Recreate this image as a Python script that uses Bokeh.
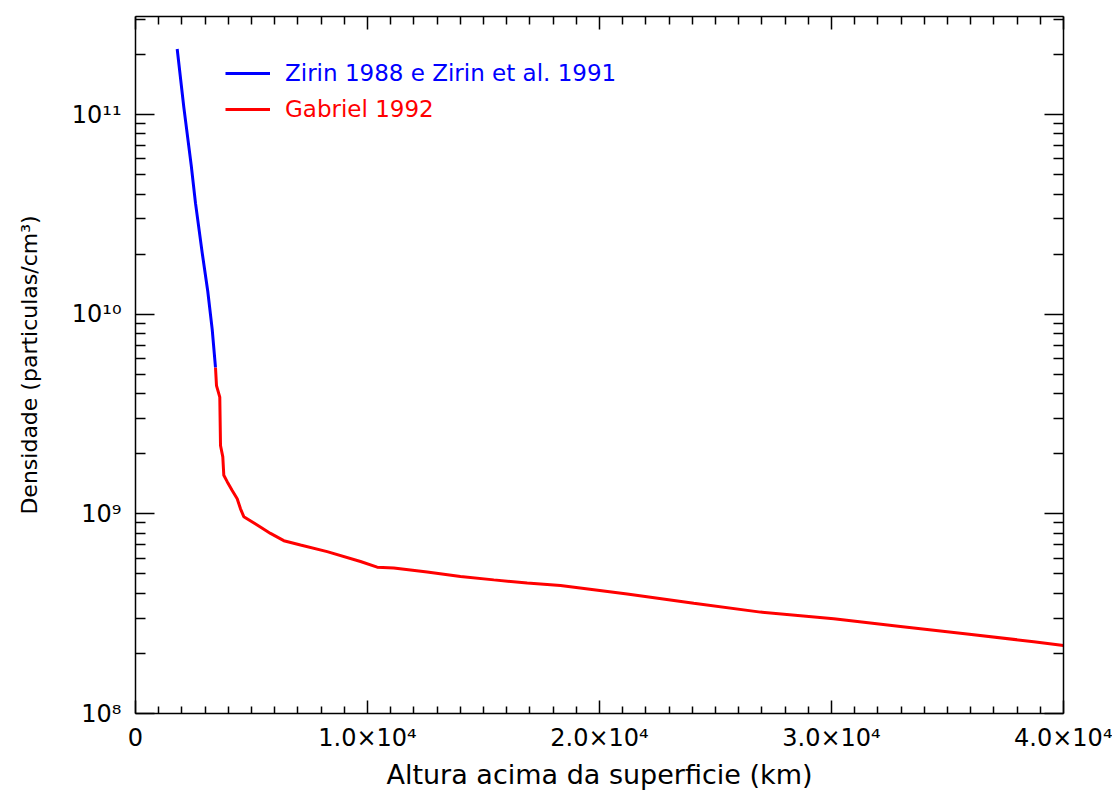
from bokeh.plotting import figure
from bokeh.models import (LinearAxis, LogAxis, FixedTicker, Range1d, Legend, LegendItem)
from bokeh.embed import file_html
from bokeh.resources import INLINE

# ---- data ----
blue_label = "Zirin 1988 e Zirin et al. 1991"
blue_h = [1797, 2082, 2401, 2586, 2875, 3116, 3306, 3448]
blue_n = [2.13e11, 1.09e11, 5.58e10, 3.60e10, 2.03e10, 1.30e10, 8.39e9, 5.41e9]

red_label = "Gabriel 1992"
red_h = [3448, 3491, 3633, 3664, 3763, 3806, 3952, 4168, 4383, 4526, 4668, 5245,
         5819, 6392, 7112, 8262, 9698, 10417, 11133, 12572, 14008, 15443, 16883,
         18318, 21193, 24063, 26938, 30096, 32972, 35846, 38717, 40000]
red_n = [5.41e9, 4.39e9, 3.84e9, 2.20e9, 1.93e9, 1.56e9, 1.45e9, 1.31e9, 1.19e9,
         1.06e9, 9.68e8, 8.79e8, 7.98e8, 7.34e8, 6.98e8, 6.47e8, 5.77e8, 5.41e8,
         5.35e8, 5.11e8, 4.86e8, 4.67e8, 4.50e8, 4.38e8, 3.97e8, 3.57e8, 3.22e8,
         2.98e8, 2.73e8, 2.50e8, 2.29e8, 2.19e8]

x_ticks = [0, 10000, 20000, 30000, 40000]
x_tick_labels = ["0", "1.0×10⁴", "2.0×10⁴", "3.0×10⁴", "4.0×10⁴"]
y_ticks = [1e8, 1e9, 1e10, 1e11]
y_tick_labels = ["10⁸", "10⁹", "10¹⁰", "10¹¹"]

x_title = "Altura acima da superficie (km)"
y_title = "Densidade (particulas/cm³)"

FONT = "DejaVu Sans"

p = figure(width=1112, height=792, output_backend="svg", toolbar_location=None,
           y_axis_type="log", x_range=Range1d(0, 40000), y_range=Range1d(1e8, 3.1e11),
           min_border_left=135, min_border_right=49, min_border_top=16, min_border_bottom=76)
p.outline_line_color = None
p.grid.visible = False
p.background_fill_color = "white"
p.border_fill_color = "white"

x_minor = [v for v in range(0, 40001, 1000) if v not in x_ticks]
y_minor = [m * 10 ** e for e in range(7, 12) for m in range(2, 10)]

def style_axis(ax, major_len, minor_len):
    ax.axis_line_color = "black"
    ax.axis_line_width = 1.5
    ax.major_tick_line_color = "black"
    ax.minor_tick_line_color = "black"
    ax.major_tick_line_width = 1.5
    ax.minor_tick_line_width = 1.5
    ax.major_tick_in = major_len
    ax.major_tick_out = 0
    ax.minor_tick_in = minor_len
    ax.minor_tick_out = 0
    ax.major_label_text_font = FONT
    ax.major_label_text_color = "black"
    ax.axis_label_text_font = FONT
    ax.axis_label_text_font_style = "normal"
    ax.axis_label_text_color = "black"

# bottom axis
xa = p.xaxis[0]
xa.ticker = FixedTicker(ticks=x_ticks, minor_ticks=x_minor)
xa.major_label_overrides = {t: l for t, l in zip(x_ticks, x_tick_labels)}
style_axis(xa, 13, 7)
xa.major_label_text_font_size = "24px"
xa.major_label_standoff = 10
xa.axis_label = x_title
xa.axis_label_text_font_size = "27px"
xa.axis_label_standoff = 4

# left axis
ya = p.yaxis[0]
ya.ticker = FixedTicker(ticks=y_ticks, minor_ticks=y_minor)
ya.major_label_overrides = {t: l for t, l in zip(y_ticks, y_tick_labels)}
style_axis(ya, 19, 10)
ya.major_label_text_font_size = "24px"
ya.major_label_standoff = 14
ya.axis_label = y_title
ya.axis_label_text_font_size = "22px"
ya.axis_label_standoff = 27

# top axis (ticks only, empty labels)
top = LinearAxis(ticker=FixedTicker(ticks=x_ticks, minor_ticks=x_minor))
style_axis(top, 13, 8)
top.major_label_overrides = {t: "" for t in x_ticks}
top.major_label_standoff = 0
p.add_layout(top, "above")

# right axis (ticks only, empty labels)
right = LogAxis(ticker=FixedTicker(ticks=y_ticks, minor_ticks=y_minor))
style_axis(right, 19, 10)
right.major_label_overrides = {t: "" for t in y_ticks}
right.major_label_standoff = 0
p.add_layout(right, "right")

r_red = p.line(red_h, red_n, line_color="#ff0000", line_width=3)
r_blue = p.line(blue_h, blue_n, line_color="#0000ff", line_width=3)

def make_legend(label, rend, color, loc):
    lg = Legend(items=[LegendItem(label=label, renderers=[rend])], location=loc,
                border_line_color=None, background_fill_alpha=0,
                padding=2, margin=0, spacing=0,
                glyph_width=45, glyph_height=20, label_height=20, label_standoff=15,
                label_text_font=FONT, label_text_font_size="23px", label_text_color=color)
    return lg

p.add_layout(make_legend(blue_label, r_blue, "#0000ff", (90, 627)))
p.add_layout(make_legend(red_label, r_red, "#ff0000", (90, 591)))

open("out.html", "w").write(file_html(p, INLINE))
